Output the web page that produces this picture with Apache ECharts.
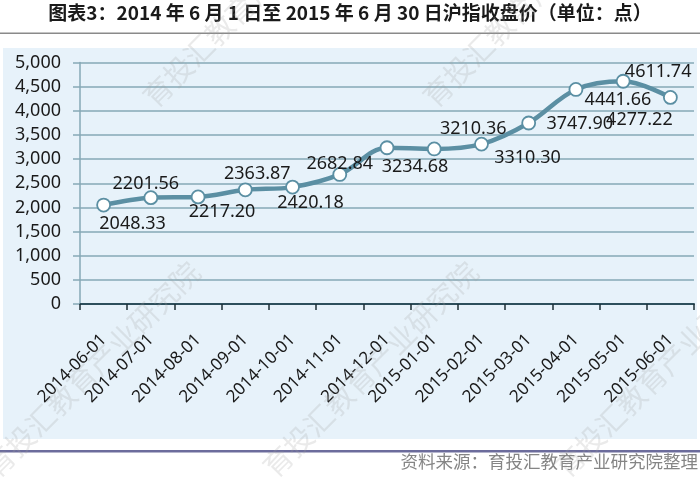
<!DOCTYPE html>
<html>
<head>
<meta charset="utf-8">
<script src="https://cdn.jsdelivr.net/npm/echarts@6/dist/echarts.min.js"></script>
<style>
html,body{margin:0;padding:0;background:#fff;}
#main{width:700px;height:478px;}
</style>
</head>
<body>
<div id="main"></div>
<script>
const titleText = '图表3：2014 年 6 月 1 日至 2015 年 6 月 30 日沪指收盘价（单位：点）';
const sourceText = '资料来源：育投汇教育产业研究院整理';
const watermarkText = '育投汇教育产业研究院';
const categories = ['2014-06-01','2014-07-01','2014-08-01','2014-09-01','2014-10-01','2014-11-01','2014-12-01','2015-01-01','2015-02-01','2015-03-01','2015-04-01','2015-05-01','2015-06-01'];
const closeValues = [2048.33, 2201.56, 2217.20, 2363.87, 2420.18, 2682.84, 3234.68, 3210.36, 3310.30, 3747.90, 4441.66, 4611.74, 4277.22];
const yTicks = [0, 500, 1000, 1500, 2000, 2500, 3000, 3500, 4000, 4500, 5000];

// label placement (style only)
const labelOffsets = [[29,19],[-5,-14],[24,15],[12,-16],[18,16],[0,-11],[28,19],[39,-20],[46,14],[51,1],[42,10],[35,-9],[-31,22]];
// watermark anchors (style only)
const watermarkAnchors = [[0,482],[278,482],[570,482],[158,112],[438,112],[718,112]];

const chart = echarts.init(document.getElementById('main'), null, {renderer:'canvas'});
const seriesData = closeValues.map((v,i)=>({
  value: v,
  label: {offset: labelOffsets[i]}
}));

const watermarks = watermarkAnchors.map(a => ({
  type:'text', x:a[0], y:a[1], rotation: Math.PI/4, silent:true, z:100,
  style:{text:watermarkText, font:'29px "Noto Sans CJK SC"', fill:'rgba(160,160,160,0.22)', textVerticalAlign:'bottom', textAlign:'left'}
}));

const option = {
  backgroundColor: '#ffffff',
  animation: false,
  graphic: [
    {type:'rect', shape:{x:3,y:48,width:694,height:391}, style:{fill:'#e7f2fa'}, z:-10, silent:true},
    {type:'rect', shape:{x:0,y:32.5,width:700,height:1.5}, style:{fill:'#8a8a8a'}, silent:true},
    {type:'rect', shape:{x:0,y:450,width:700,height:2.5}, style:{fill:'#6c6c9c'}, silent:true},
    {type:'text', left:'center', top:3, style:{text:titleText, font:'bold 19px "Noto Sans CJK SC"', fill:'#1a1a1a'}},
    {type:'text', right:2, top:453, style:{text:sourceText, font:'17.5px "Noto Sans CJK SC"', fill:'#858585'}}
  ].concat(watermarks),
  grid: {left:80, right:6, top:62.5, bottom:174, containLabel:false},
  xAxis: {
    type:'category',
    data: categories,
    boundaryGap: true,
    axisLine: {lineStyle:{color:'#2e4f5c', width:2}},
    axisTick: {show:true, alignWithLabel:false, length:6, lineStyle:{color:'#1e2f36', width:1.5}},
    axisLabel: {rotate:45, interval:0, margin:33, color:'#1a1a1a', fontSize:17, fontFamily:'"Noto Sans"'}
  },
  yAxis: {
    type:'value',
    min: yTicks[0],
    max: yTicks[yTicks.length-1],
    interval: yTicks[1]-yTicks[0],
    axisLine: {show:true, lineStyle:{color:'#86a9b6', width:1.5}},
    axisTick: {show:true, length:7, lineStyle:{color:'#86a9b6', width:1.5}},
    splitLine: {lineStyle:{color:'#86a9b6', width:1.5}},
    axisLabel: {margin:19, color:'#1a1a1a', fontSize:18, fontFamily:'"Noto Sans"',
      formatter: v => v.toLocaleString('en-US')}
  },
  series: [{
    type:'line',
    data: seriesData,
    smooth: 0.35,
    symbol:'circle',
    symbolSize: 13,
    lineStyle: {color:'#5b8fa3', width:4.5},
    itemStyle: {color:'#ffffff', borderColor:'#5b8fa3', borderWidth:1.8},
    label: {
      show:true, position:'inside', align:'center', verticalAlign:'middle',
      color:'#1a1a1a', fontSize:18, fontFamily:'"Noto Sans"',
      formatter: p => p.value.toFixed(2)
    },
    z: 5
  }]
};
chart.setOption(option);
</script>
</body>
</html>
